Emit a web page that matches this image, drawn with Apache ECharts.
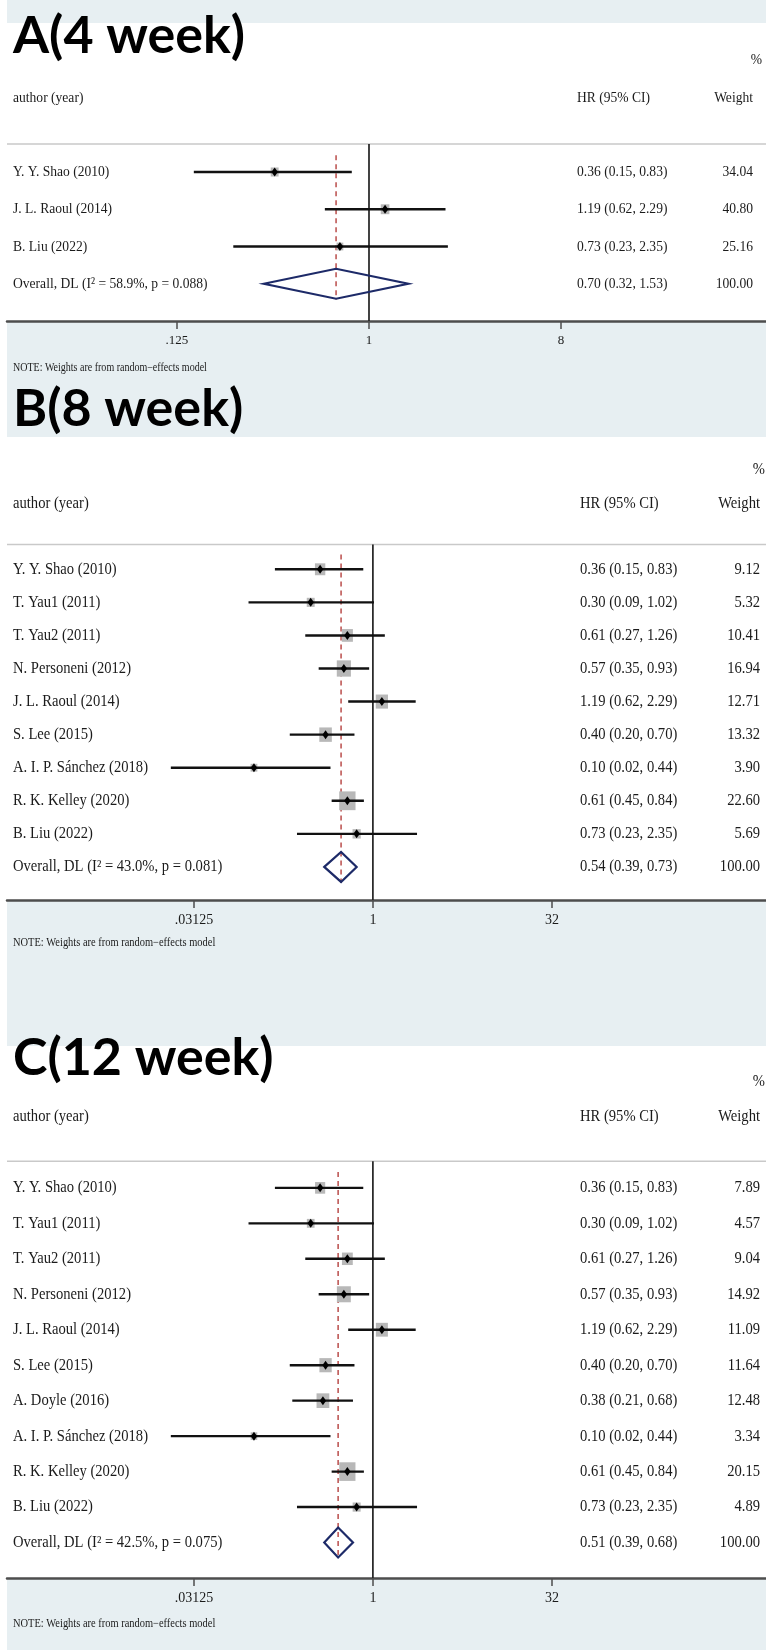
<!DOCTYPE html>
<html>
<head>
<meta charset="utf-8">
<script src="https://cdn.jsdelivr.net/npm/echarts@6/dist/echarts.min.js"></script>
<style>
  html, body { margin: 0; padding: 0; background: #e7eff2; }
  #chart { width: 766px; height: 1650px; }
</style>
</head>
<body>
<div id="chart"></div>
<script>
// ---------- Panel A: 4 week ----------
const titleA = 'A(4 week)';
const studiesA = ['Y. Y. Shao (2010)', 'J. L. Raoul (2014)', 'B. Liu (2022)'];
const hrA = [0.36, 1.19, 0.73];
const loA = [0.15, 0.62, 0.23];
const hiA = [0.83, 2.29, 2.35];
const weightA = [34.04, 40.80, 25.16];
const overallA = [0.70, 0.32, 1.53];
const hetA = ['58.9', '0.088'];
const ticksA = [0.125, 1, 8];
const tickLabelsA = ['.125', '1', '8'];

// ---------- Panel B: 8 week ----------
const titleB = 'B(8 week)';
const studiesB = ['Y. Y. Shao (2010)', 'T. Yau1 (2011)', 'T. Yau2 (2011)', 'N. Personeni (2012)',
  'J. L. Raoul (2014)', 'S. Lee (2015)', 'A. I. P. Sánchez (2018)', 'R. K. Kelley (2020)', 'B. Liu (2022)'];
const hrB = [0.36, 0.30, 0.61, 0.57, 1.19, 0.40, 0.10, 0.61, 0.73];
const loB = [0.15, 0.09, 0.27, 0.35, 0.62, 0.20, 0.02, 0.45, 0.23];
const hiB = [0.83, 1.02, 1.26, 0.93, 2.29, 0.70, 0.44, 0.84, 2.35];
const weightB = [9.12, 5.32, 10.41, 16.94, 12.71, 13.32, 3.90, 22.60, 5.69];
const overallB = [0.54, 0.39, 0.73];
const hetB = ['43.0', '0.081'];
const ticksB = [0.03125, 1, 32];
const tickLabelsB = ['.03125', '1', '32'];

// ---------- Panel C: 12 week ----------
const titleC = 'C(12 week)';
const studiesC = ['Y. Y. Shao (2010)', 'T. Yau1 (2011)', 'T. Yau2 (2011)', 'N. Personeni (2012)',
  'J. L. Raoul (2014)', 'S. Lee (2015)', 'A. Doyle (2016)', 'A. I. P. Sánchez (2018)',
  'R. K. Kelley (2020)', 'B. Liu (2022)'];
const hrC = [0.36, 0.30, 0.61, 0.57, 1.19, 0.40, 0.38, 0.10, 0.61, 0.73];
const loC = [0.15, 0.09, 0.27, 0.35, 0.62, 0.20, 0.21, 0.02, 0.45, 0.23];
const hiC = [0.83, 1.02, 1.26, 0.93, 2.29, 0.70, 0.68, 0.44, 0.84, 2.35];
const weightC = [7.89, 4.57, 9.04, 14.92, 11.09, 11.64, 12.48, 3.34, 20.15, 4.89];
const overallC = [0.51, 0.39, 0.68];
const hetC = ['42.5', '0.075'];
const ticksC = [0.03125, 1, 32];
const tickLabelsC = ['.03125', '1', '32'];

const noteText = 'NOTE: Weights are from random\u2212effects model';

// ---------- layout and style ----------
const SERIF = '"Liberation Serif", "Times New Roman", serif';
const INK = '#1b1b1b';
const SQUEEZE = 0.87;          // horizontal condensing of the Stata text
const GRID_LEFT = 7;

const panels = [
  { title: titleA, studies: studiesA, hr: hrA, lo: loA, hi: hiA, w: weightA, overall: overallA, het: hetA,
    ticks: ticksA, tickLabels: tickLabelsA,
    top: 23, bottom: 321, xMin: -5.656, xMax: 6.203, box: 1.55, ci: 2.6,
    font: 15.6, tickFont: 13, noteFont: 11.5, titleY: 33, noteY: 368,
    labelX: 13, hrX: 577, wX: 753, pctX: 762 },
  { title: titleB, studies: studiesB, hr: hrB, lo: loB, hi: hiB, w: weightB, overall: overallB, het: hetB,
    ticks: ticksB, tickLabels: tickLabelsB,
    top: 437, bottom: 900, xMin: -10.22, xMax: 10.98, box: 3.95, ci: 2.4,
    font: 16.8, tickFont: 14, noteFont: 12, titleY: 406, noteY: 943,
    labelX: 13, hrX: 580, wX: 760, pctX: 765 },
  { title: titleC, studies: studiesC, hr: hrC, lo: loC, hi: hiC, w: weightC, overall: overallC, het: hetC,
    ticks: ticksC, tickLabels: tickLabelsC,
    top: 1046, bottom: 1578, xMin: -10.22, xMax: 10.98, box: 4.15, ci: 2.4,
    font: 16.8, tickFont: 14, noteFont: 12, titleY: 1055, noteY: 1624,
    labelX: 13, hrX: 580, wX: 760, pctX: 765 }
];

const fmt = v => v.toFixed(2);
const ciText = (h, l, u) => fmt(h) + ' (' + fmt(l) + ', ' + fmt(u) + ')';

function txt(str, x, y, size, align) {
  return {
    type: 'text', x: x, y: y, scaleX: SQUEEZE,
    style: { text: str, fill: INK, fontSize: size, fontFamily: SERIF, align: align, verticalAlign: 'middle' }
  };
}

const grids = [], xAxes = [], yAxes = [], series = [], graphics = [];

graphics.push({ type: 'rect', left: 0, top: 0, shape: { width: GRID_LEFT, height: 1650 }, style: { fill: '#ffffff' }, z: 0 });

panels.forEach((P, k) => {
  const nRows = P.studies.length + 1;
  grids.push({
    left: GRID_LEFT, right: 0, top: P.top, height: P.bottom - P.top,
    show: true, backgroundColor: '#ffffff', borderWidth: 0,
    containLabel: false, outerBoundsMode: 'none'
  });
  const tickPos = P.ticks.map(t => Math.log2(t));
  xAxes.push({
    gridIndex: k, type: 'value', min: P.xMin, max: P.xMax, position: 'bottom',
    axisLine: { show: true, onZero: false, lineStyle: { color: '#4d4d4d', width: 2.5 } },
    axisTick: { show: true, inside: false, length: 8, customValues: tickPos, lineStyle: { color: '#4d4d4d', width: 1.5 } },
    axisLabel: {
      show: true, customValues: tickPos, margin: 13, color: INK, fontSize: P.tickFont, fontFamily: SERIF,
      formatter: v => {
        const i = tickPos.findIndex(t => Math.abs(t - v) < 1e-9);
        return i >= 0 ? P.tickLabels[i] : '';
      }
    },
    splitLine: { show: false }
  });
  yAxes.push({
    gridIndex: k, type: 'value', inverse: true, min: -4, max: nRows, show: false
  });

  const ov = P.overall.map(Math.log2);
  const overallRow = P.studies.length;

  // header, separator, line of no effect, dashed line at the pooled estimate
  series.push({
    type: 'custom', xAxisIndex: k, yAxisIndex: k, silent: true, animation: false, z: 1,
    data: [[ov[0], overallRow]],
    renderItem: (params, api) => {
      const sepL = api.coord([P.xMin, -0.75]);
      const sepR = api.coord([P.xMax, -0.75]);
      const oneTop = api.coord([0, -0.75]);
      const oneBot = api.coord([0, nRows]);
      const dTop = api.coord([api.value(0), -0.45]);
      const dBot = api.coord([api.value(0), api.value(1)]);
      const hdr = api.coord([0, -2])[1];
      const pct = api.coord([0, -3])[1];
      return {
        type: 'group', children: [
          { type: 'line', shape: { x1: sepL[0], y1: sepL[1], x2: sepR[0], y2: sepR[1] },
            style: { stroke: '#c9c9c9', lineWidth: 1.5 } },
          { type: 'line', shape: { x1: oneTop[0], y1: oneTop[1], x2: oneBot[0], y2: oneBot[1] },
            style: { stroke: '#222222', lineWidth: 1.7 } },
          { type: 'line', z2: 5, shape: { x1: dTop[0], y1: dTop[1], x2: dBot[0], y2: dBot[1] + 16 },
            style: { stroke: '#b5403e', lineWidth: 1.4, lineDash: [5, 4] } },
          txt('author (year)', P.labelX, hdr, P.font, 'left'),
          txt('HR (95% CI)', P.hrX, hdr, P.font, 'left'),
          txt('Weight', P.wX, hdr, P.font, 'right'),
          txt('%', P.pctX, pct, P.font, 'right')
        ]
      };
    }
  });

  // individual studies: weighted box, confidence interval, point estimate, text columns
  series.push({
    type: 'custom', xAxisIndex: k, yAxisIndex: k, silent: true, animation: false, z: 2,
    data: P.hr.map((h, i) => [Math.log2(h), Math.log2(P.lo[i]), Math.log2(P.hi[i]), P.w[i], i]),
    renderItem: (params, api) => {
      const i = params.dataIndex;
      const row = api.value(4);
      const p = api.coord([api.value(0), row]);
      const l = api.coord([api.value(1), row]);
      const u = api.coord([api.value(2), row]);
      const bh = P.box * Math.sqrt(api.value(3));
      const bw = bh * SQUEEZE;
      return {
        type: 'group', children: [
          { type: 'rect', shape: { x: p[0] - bw / 2, y: p[1] - bh / 2, width: bw, height: bh },
            style: { fill: '#b8b8b8' } },
          { type: 'line', shape: { x1: l[0], y1: l[1], x2: u[0], y2: u[1] },
            style: { stroke: '#111111', lineWidth: P.ci } },
          { type: 'polygon', shape: { points: [[p[0], p[1] - 4.5], [p[0] + 3.2, p[1]], [p[0], p[1] + 4.5], [p[0] - 3.2, p[1]]] },
            style: { fill: '#000000' } },
          txt(P.studies[i], P.labelX, p[1], P.font, 'left'),
          txt(ciText(P.hr[i], P.lo[i], P.hi[i]), P.hrX, p[1], P.font, 'left'),
          txt(fmt(P.w[i]), P.wX, p[1], P.font, 'right')
        ]
      };
    }
  });

  // pooled estimate diamond
  series.push({
    type: 'custom', xAxisIndex: k, yAxisIndex: k, silent: true, animation: false, z: 3,
    data: [[ov[0], ov[1], ov[2], overallRow]],
    renderItem: (params, api) => {
      const row = api.value(3);
      const c = api.coord([api.value(0), row]);
      const l = api.coord([api.value(1), row]);
      const u = api.coord([api.value(2), row]);
      const hh = 15;
      const label = 'Overall, DL (I\u00B2 = ' + P.het[0] + '%, p = ' + P.het[1] + ')';
      return {
        type: 'group', children: [
          { type: 'polygon', shape: { points: [[l[0], c[1]], [c[0], c[1] - hh], [u[0], c[1]], [c[0], c[1] + hh]] },
            style: { fill: 'rgba(255,255,255,0)', stroke: '#1d2a68', lineWidth: 2.2 } },
          txt(label, P.labelX, c[1], P.font, 'left'),
          txt(ciText(P.overall[0], P.overall[1], P.overall[2]), P.hrX, c[1], P.font, 'left'),
          txt(fmt(100), P.wX, c[1], P.font, 'right')
        ]
      };
    }
  });

  graphics.push({
    type: 'text', left: 13, top: P.titleY - 23, z: 10,
    style: { text: P.title, fill: '#000000', font: 'bold 52px Lato, "Open Sans", sans-serif' }
  });
  graphics.push({
    type: 'text', x: 13, y: P.noteY, scaleX: SQUEEZE, z: 10,
    style: { text: noteText, fill: INK, fontSize: P.noteFont, fontFamily: SERIF, verticalAlign: 'middle' }
  });
});

const chart = echarts.init(document.getElementById('chart'), null, { renderer: 'canvas' });
chart.setOption({
  backgroundColor: '#e7eff2',
  animation: false,
  grid: grids,
  xAxis: xAxes,
  yAxis: yAxes,
  series: series,
  graphic: graphics
});
</script>
</body>
</html>
